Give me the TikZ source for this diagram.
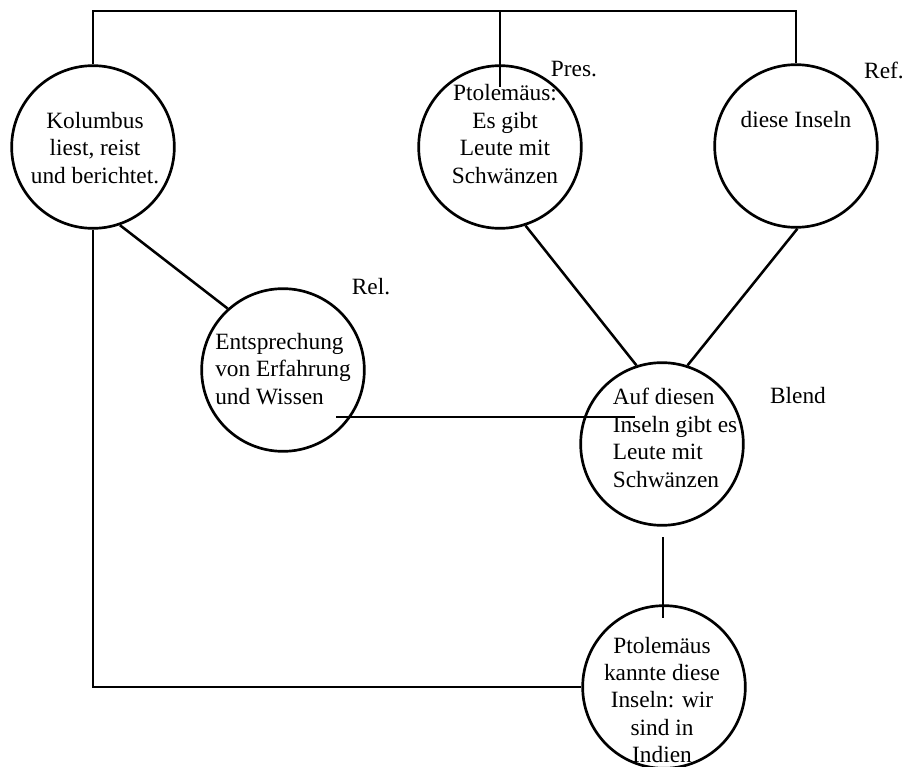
\documentclass[tikz,border=0pt]{standalone}
\usepackage{fontspec}
\setmainfont{Liberation Serif}

\begin{document}
\begin{tikzpicture}[x=0.75pt, y=-0.75pt,
    blob/.style = {draw, circle, line width=2pt,
      minimum size=122pt, inner sep=0pt},
    txt/.style  = {font=\fontsize{17.5}{20.6}\selectfont,
      inner sep=0pt, align=center},
    tag/.style  = {font=\fontsize{17.5}{20.6}\selectfont, inner sep=0pt},
    link/.style = {line width=1.9pt},
    thin link/.style = {line width=1pt},
  ]
  \useasboundingbox (0,0) rectangle (908,767);

  % the spaces
  \node[blob] (kol)   at (93,147)  {};
  \node[blob] (pres)  at (500,147) {};
  \node[blob] (ref)   at (796,146) {};
  \node[blob] (rel)   at (283,370) {};
  \node[blob] (blend) at (662,444) {};
  \node[blob] (ind)   at (664,687) {};

  % their texts
  \node[txt] (kol-t)   at (95,148)  {Kolumbus\\liest, reist\\und berichtet.};
  \node[txt] (pres-t)  at (505,134) {Ptolemäus:\\Es gibt\\Leute mit\\Schwänzen};
  \node[txt] (ref-t)   at (796,120) {diese Inseln};
  \node[txt, align=left] (rel-t)   at (283,369)
    {Entsprechung\\von Erfahrung\\und Wissen};
  \node[txt, align=left] (blend-t) at (675,438)
    {Auf diesen\\Inseln gibt es\\Leute mit\\Schwänzen};
  \node[txt] (ind-t)   at (662,700)
    {Ptolemäus\\kannte diese\\Inseln: wir\\sind in\\Indien};

  % the tags
  \node[tag] (pres-l)  at (574,69)  {Pres.};
  \node[tag] (ref-l)   at (884,70)  {Ref.};
  \node[tag] (rel-l)   at (371,287) {Rel.};
  \node[tag] (blend-l) at (798,396) {Blend};

  % free ends
  \coordinate (rail)     at (500,11);
  \coordinate (pres-in)  at (500,87);
  \coordinate (rel-in)   at (336,417);
  \coordinate (blend-in) at (635,417);
  \coordinate (blend-dn) at (663,537);
  \coordinate (ind-up)   at (663,618);

  % connectors
  \draw[link] (kol.north) |- (rail) -| (ref.north);
  \draw[link, line width=1.4pt] (rail) -- (pres-in);
  \draw[link] (kol.south) |- (ind.west);
  \draw[link] (kol.-71) -- (rel.132);
  \draw[link] (rel-in) -- (blend-in);
  \draw[link] (pres.-72) -- (blend.108);
  \draw[link] (ref.-89) -- (blend.72);
  \draw[thin link] (blend-dn) -- (ind-up);
\end{tikzpicture}
\end{document}
